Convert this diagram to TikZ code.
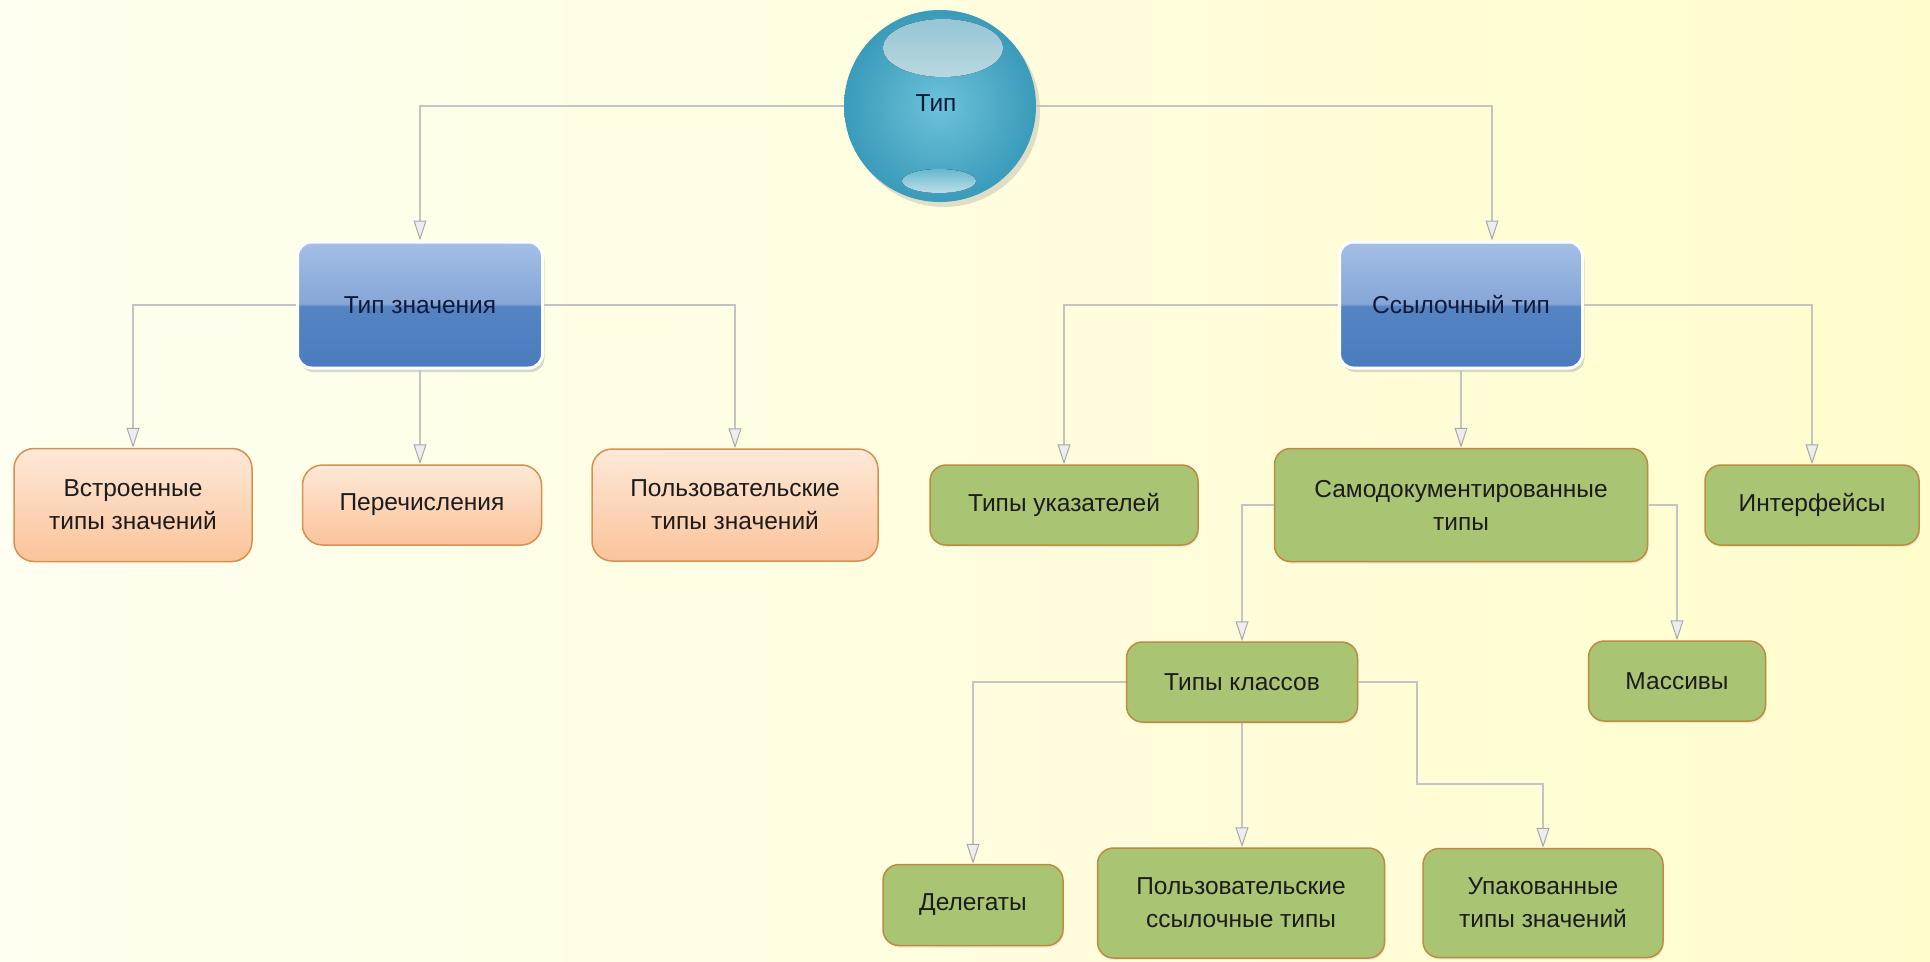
\documentclass[tikz,border=0pt]{standalone}
\usepackage{fontspec}
\setmainfont{Liberation Sans}
\usetikzlibrary{arrows.meta,shadows,calc}
\definecolor{bgL}{HTML}{FFFEF0}
\definecolor{bgR}{HTML}{FFFDCC}
\definecolor{bl1}{HTML}{4A7CBD}
\definecolor{bl2}{HTML}{5584C3}
\definecolor{bl3}{HTML}{86A6D8}
\definecolor{bl4}{HTML}{A4BFE5}
\definecolor{orT}{HTML}{FEE9D8}
\definecolor{orB}{HTML}{FBC39A}
\definecolor{orD}{HTML}{D7914F}
\definecolor{grF}{HTML}{A9C574}
\definecolor{grD}{HTML}{BF8B3E}
\definecolor{lnC}{HTML}{C4C4C4}
\definecolor{tipC}{HTML}{A8A8A8}
\definecolor{sph1}{HTML}{6CC2DA}
\definecolor{sph2}{HTML}{3A9BBA}
\definecolor{hlT}{HTML}{A3D5E4}
\definecolor{hlB}{HTML}{C9EAF3}
\definecolor{txt}{HTML}{1C1C1C}
\definecolor{btxt}{HTML}{0E1A3A}
\pgfdeclareverticalshading{bluegloss}{100bp}{color(0bp)=(bl1); color(25bp)=(bl1); color(49.5bp)=(bl2); color(50.5bp)=(bl3); color(75bp)=(bl4); color(100bp)=(bl4)}
\tikzset{
  conn/.style={draw=lnC, line width=2.2pt,
    -{Triangle[length=20pt,width=13pt,line width=1pt,color=tipC,fill=white!93!black]}},
  base/.style={align=center, font=\fontsize{24.5}{33}\selectfont, text=txt, inner sep=0pt},
  bluebox/.style={base, rounded corners=14pt, shade, shading=bluegloss, draw=white, line width=3pt,
    text=btxt, drop shadow={shadow xshift=2pt, shadow yshift=-4pt, opacity=0.3}},
  orbox/.style={base, rounded corners=20pt, top color=orT, bottom color=orB, draw=orD, line width=1.5pt},
  grbox/.style={base, rounded corners=16pt, fill=grF, draw=grD, line width=1.5pt,
    drop shadow={shadow xshift=1pt, shadow yshift=-2pt, opacity=0.15}},
  sphere/.style={circle, minimum size=192pt, inner sep=0pt, inner color=sph1, outer color=sph2,
    drop shadow={shadow xshift=4pt, shadow yshift=-5pt, opacity=0.25}}
}
\begin{document}
\begin{tikzpicture}[x=1pt, y=-1pt]
\shade[left color=bgL, right color=bgR] (0,0) rectangle (1930,961);
\useasboundingbox (0,0) rectangle (1930,961);

% sphere
\node[sphere] (sph) at (940,106) {};
\fill[top color=hlT, bottom color=hlB, opacity=0.92] ($(sph)+(3,-58)$) ellipse [x radius=60pt, y radius=29pt];
\fill[top color=sph1, bottom color=hlB, opacity=0.95] ($(sph)+(-1,75)$) ellipse [x radius=37pt, y radius=12pt];
\node[base, text=btxt] (sphtxt) at ($(sph)+(-4,-3)$) {Тип};

% level 1
\node[bluebox, minimum width=245pt, minimum height=126pt] (tv) at (420,305) {Тип значения};
\node[bluebox, minimum width=243pt, minimum height=126pt] (rt) at (1461,305) {Ссылочный тип};

% level 2 (orange)
\node[orbox, minimum width=238pt, minimum height=113pt] (bi) at (133,505) {Встроенные\\типы значений};
\node[orbox, minimum width=239pt, minimum height=80pt] (en) at (422,505) {Перечисления};
\node[orbox, minimum width=286pt, minimum height=112pt] (ut) at (735,505) {Пользовательские\\типы значений};

% level 2 (green)
\node[grbox, minimum width=268pt, minimum height=80pt] (pt) at (1064,505) {Типы указателей};
\node[grbox, minimum width=373pt, minimum height=113pt] (sd) at (1461,505) {Самодокументированные\\типы};
\node[grbox, minimum width=214pt, minimum height=80pt] (inf) at (1812,505) {Интерфейсы};

% level 3
\node[grbox, minimum width=231pt, minimum height=80pt] (tk) at (1242,682) {Типы классов};
\node[grbox, minimum width=177pt, minimum height=80pt] (ms) at (1677,681) {Массивы};

% level 4
\node[grbox, minimum width=180pt, minimum height=81pt] (dl) at (973,905) {Делегаты};
\node[grbox, minimum width=287pt, minimum height=110pt] (pr) at (1241,903) {Пользовательские\\ссылочные типы};
\node[grbox, minimum width=240pt, minimum height=109pt] (up) at (1543,903) {Упакованные\\типы значений};

% connectors
\draw[conn] (sph.west) -| (tv.north);
\draw[conn] (sph.east) -| ([xshift=31pt]rt.north);
\draw[conn] (tv.west) -| (bi.north);
\draw[conn] (tv.south) -- (tv.south |- en.north);
\draw[conn] (tv.east) -| (ut.north);
\draw[conn] (rt.west) -| (pt.north);
\draw[conn] (rt.south) -- (sd.north);
\draw[conn] (rt.east) -| (inf.north);
\draw[conn] (sd.west) -| (tk.north);
\draw[conn] (sd.east) -| (ms.north);
\draw[conn] (tk.west) -| (dl.north);
\draw[conn] (tk.south) -- (tk.south |- pr.north);
\draw[conn] (tk.east) -- ++(59,0) |- ([yshift=64pt]up.north) -- (up.north);
\end{tikzpicture}
\end{document}
